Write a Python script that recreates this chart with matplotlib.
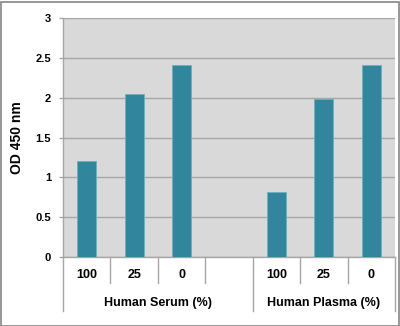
import matplotlib
matplotlib.use("Agg")
import matplotlib.pyplot as plt
from matplotlib.patches import Rectangle
from matplotlib.transforms import blended_transform_factory

# Category labels (two levels) and OD readings
sub_labels = ["100", "25", "0", "", "100", "25", "0"]
group_labels = ["Human Serum (%)", "Human Plasma (%)"]
group_spans = [(0, 3), (4, 6)]      # first/last slot index of each group
serum_od = [1.21, 2.05, 2.41]
plasma_od = [0.82, 1.98, 2.41]
y_ticks = [0, 0.5, 1, 1.5, 2, 2.5, 3]
y_tick_labels = ["0", "0.5", "1", "1.5", "2", "2.5", "3"]

plt.rcParams["font.family"] = ["Liberation Sans", "DejaVu Sans"]
plt.rcParams["font.weight"] = "bold"

W, H = 400, 326
fig = plt.figure(figsize=(W / 100, H / 100), dpi=100)
fig.patch.set_facecolor("white")

# plot area in pixels: x 63..395, y 18..257
ax = fig.add_axes([63 / W, (H - 257) / H, (395 - 63) / W, (257 - 18) / H])
ax.set_facecolor("#d9d9d9")

x_serum = [0, 1, 2]
x_plasma = [4, 5, 6]
bar_kw = dict(width=0.4, color="#31859c", edgecolor="#72b0bf", linewidth=0.7, zorder=3)
ax.bar(x_serum, serum_od, **bar_kw)
ax.bar(x_plasma, plasma_od, **bar_kw)

ax.set_xlim(-0.5, 6.5)
ax.set_ylim(0, 3)
ax.set_yticks(y_ticks)
ax.set_yticklabels(y_tick_labels, fontweight="bold")
ax.yaxis.grid(True, color="#a6a6a6", linewidth=1.0, zorder=1)
ax.set_axisbelow(True)
ax.tick_params(axis="y", direction="out", length=3, width=1, color="#a6a6a6",
               pad=5.5, labelsize=8)
ax.set_xticks([])

for side in ["top", "right"]:
    ax.spines[side].set_visible(False)
for side in ["left", "bottom"]:
    ax.spines[side].set_color("#a6a6a6")
    ax.spines[side].set_linewidth(1.0)

ax.set_ylabel("OD 450 nm", fontsize=10, fontweight="bold", labelpad=8)

# multi-level category axis drawn under the plot area
trans = blended_transform_factory(ax.transData, ax.transAxes)
short_y = -26 / 239
long_y = -54 / 239
line_kw = dict(color="#a6a6a6", linewidth=1.0, clip_on=False, transform=trans)
for b in [0.5, 1.5, 2.5, 4.5, 5.5]:
    ax.plot([b, b], [0, short_y], **line_kw)
for b in [-0.5, 3.5, 6.5]:
    ax.plot([b, b], [0, long_y], **line_kw)

for i, lab in enumerate(sub_labels):
    ax.text(i, -18 / 239, lab, transform=trans, ha="center", va="center",
            fontsize=9, fontweight="bold")

for lab, (a, b) in zip(group_labels, group_spans):
    ax.text((a + b) / 2, -46 / 239, lab, transform=trans, ha="center", va="center",
            fontsize=9, fontweight="bold")

# chart border
fig.add_artist(Rectangle((0.5 / W, 0.5 / H), (W - 2) / W, (H - 2) / H,
                         transform=fig.transFigure, fill=False,
                         edgecolor="#868686", linewidth=1.2))

fig.savefig("out.png", dpi=100)
